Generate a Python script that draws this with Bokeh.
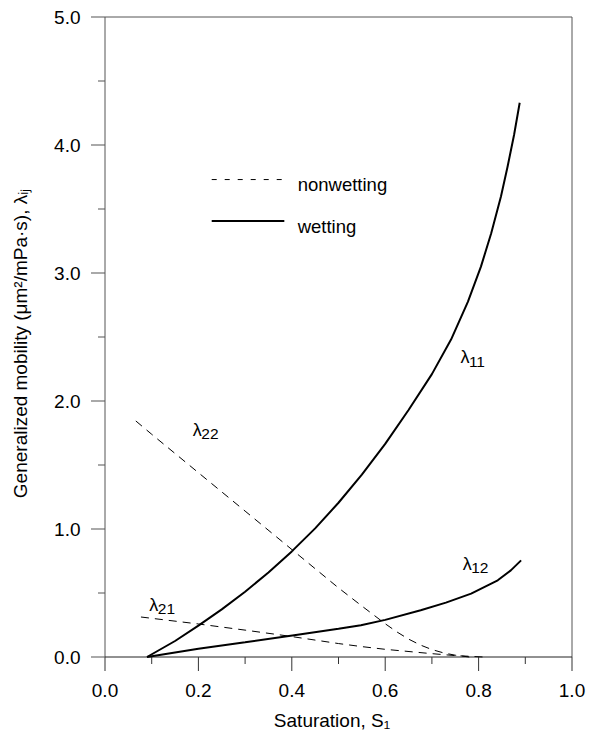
import numpy as np
from bokeh.plotting import figure
from bokeh.models import Range1d, ColumnDataSource, FixedTicker
from bokeh.embed import file_html
from bokeh.resources import INLINE
from bokeh.core.properties import value

# ---- data ----
l11_x = [0.09, 0.15, 0.2, 0.25, 0.3, 0.35, 0.4, 0.45, 0.5, 0.55, 0.6, 0.65, 0.7,
         0.741, 0.777, 0.805, 0.827, 0.848, 0.862, 0.876, 0.888]
l11_y = [0.0, 0.125, 0.245, 0.372, 0.51, 0.66, 0.825, 1.005, 1.205, 1.425, 1.665, 1.93, 2.21,
         2.48, 2.775, 3.05, 3.31, 3.6, 3.83, 4.08, 4.33]

l12_x = [0.09, 0.2, 0.3, 0.405, 0.5, 0.548, 0.6, 0.676, 0.73, 0.784, 0.841, 0.869, 0.891]
l12_y = [0.0, 0.065, 0.115, 0.17, 0.22, 0.248, 0.29, 0.365, 0.425, 0.495, 0.599, 0.677, 0.755]

l22_x = [0.066, 0.1, 0.2, 0.3, 0.402, 0.5, 0.548, 0.6, 0.625, 0.65, 0.675, 0.7, 0.725, 0.75, 0.78]
l22_y = [1.844, 1.74, 1.44, 1.14, 0.834, 0.54, 0.404, 0.26, 0.196, 0.14, 0.094, 0.058, 0.032, 0.014, 0.0]

l21_x = [0.077, 0.2, 0.3, 0.39, 0.5, 0.548, 0.6, 0.7, 0.75, 0.81]
l21_y = [0.3125, 0.258, 0.21, 0.165, 0.105, 0.082, 0.06, 0.026, 0.011, 0.0]

x_ticks = [0.0, 0.2, 0.4, 0.6, 0.8, 1.0]
x_tick_labels = ["0.0", "0.2", "0.4", "0.6", "0.8", "1.0"]
x_minor = [0.1, 0.3, 0.5, 0.7, 0.9]
y_ticks = [0.0, 1.0, 2.0, 3.0, 4.0, 5.0]
y_tick_labels = ["0.0", "1.0", "2.0", "3.0", "4.0", "5.0"]
y_minor = [0.5, 1.5, 2.5, 3.5, 4.5]

curve_labels = ["11", "12", "22", "21"]
curve_label_x = [0.761, 0.766, 0.188, 0.095]
curve_label_y = [2.34, 0.73, 1.777, 0.409]

legend_names = ["nonwetting", "wetting"]
legend_y = [3.73, 3.406]
legend_text_y = [3.693, 3.365]
legend_x0, legend_x1, legend_tx = 0.2285, 0.384, 0.4126

FONT = "Liberation Sans"
W, H = 596, 735
X0, X1, Y0, Y1 = 0.0, 1.0, 0.0, 5.0
MAJOR_PX, MINOR_PX = 14, 7
# plot box in pixels (left, right, top, bottom); the drawing frame is enlarged to hold the ticks
BOX_L, BOX_R, BOX_T, BOX_B = 104.5, 571.5, 16.5, 656.5
PAD_L, PAD_B, PAD_R, PAD_T = 14.5, 14.5, 1.5, 1.5

dx = (X1 - X0) / (BOX_R - BOX_L)
dy = (Y1 - Y0) / (BOX_B - BOX_T)

fl = int(BOX_L - PAD_L)
fr = int(BOX_R + PAD_R)
ft = int(BOX_T - PAD_T)
fb = int(BOX_B + PAD_B)

p = figure(width=W, height=H,
           x_range=Range1d(X0 - PAD_L * dx, X1 + PAD_R * dx),
           y_range=Range1d(Y0 - PAD_B * dy, Y1 + PAD_T * dy),
           output_backend="svg", toolbar_location=None,
           min_border_left=fl, min_border_right=W - fr,
           min_border_top=ft, min_border_bottom=H - fb)
p.grid.visible = False
p.outline_line_color = None
p.background_fill_color = "white"
p.border_fill_color = "white"

p.xaxis.ticker = FixedTicker(ticks=x_ticks, minor_ticks=x_minor)
p.yaxis.ticker = FixedTicker(ticks=y_ticks, minor_ticks=y_minor)
p.xaxis.major_label_overrides = {t: l for t, l in zip(x_ticks, x_tick_labels)}
p.yaxis.major_label_overrides = {t: l for t, l in zip(y_ticks, y_tick_labels)}

for ax in (p.xaxis[0], p.yaxis[0]):
    ax.major_tick_out = 0
    ax.major_tick_in = 0
    ax.minor_tick_out = 0
    ax.minor_tick_in = 0
    ax.major_tick_line_color = None
    ax.minor_tick_line_color = None
    ax.axis_line_color = None
    ax.major_label_text_font = FONT
    ax.major_label_text_font_size = "19px"
    ax.major_label_text_color = "black"
    ax.axis_label_text_font = FONT
    ax.axis_label_text_font_size = "19px"
    ax.axis_label_text_font_style = "normal"
    ax.axis_label_text_color = "black"

p.xaxis.major_label_standoff = 12
p.yaxis.major_label_standoff = 10
p.xaxis.axis_label = "Saturation, S\u2081"
p.yaxis.axis_label = "Generalized mobility (\u03bcm\u00b2/mPa\u00b7s), \u03bb\u1d62\u2c7c"
p.xaxis.axis_label_standoff = 10
p.yaxis.axis_label_standoff = 20

# plot box
p.line([X0, X0, X1, X1], [Y0, Y1, Y1, Y0], line_color="#555555", line_width=1)
p.line([X0, X1], [Y0, Y0], line_color="#222222", line_width=1)

# tick marks as thin filled bars (1 px wide) hanging outward from the box
xt = x_ticks + x_minor
xlen = [MAJOR_PX * dy] * len(x_ticks) + [MINOR_PX * dy] * len(x_minor)
yt = y_ticks + y_minor
ylen = [MAJOR_PX * dx] * len(y_ticks) + [MINOR_PX * dx] * len(y_minor)
p.quad(left=[v - 0.5 * dx for v in xt], right=[v + 0.5 * dx for v in xt],
       top=[Y0] * len(xt), bottom=[Y0 - l for l in xlen],
       fill_color="#333333", line_color=None)
p.quad(left=[X0 - l for l in ylen], right=[X0] * len(yt),
       top=[v + 0.5 * dy for v in yt], bottom=[v - 0.5 * dy for v in yt],
       fill_color="#555555", line_color=None)

# curves
p.line(l11_x, l11_y, line_color="black", line_width=2)
p.line(l12_x, l12_y, line_color="black", line_width=2)
p.line(l22_x, l22_y, line_color="black", line_width=1, line_dash="8 6")
p.line(l21_x, l21_y, line_color="black", line_width=1, line_dash="8 6")

# curve labels: lambda + subscript
src = ColumnDataSource(dict(x=curve_label_x, y=curve_label_y,
                            lam=["\u03bb"] * len(curve_labels), sub=curve_labels))
p.text(x="x", y="y", text="lam", source=src, text_font=value(FONT),
       text_font_size="18px", text_align="left", text_baseline="alphabetic", text_color="black")
p.text(x="x", y="y", text="sub", source=src, text_font=value(FONT),
       text_font_size="15.5px", text_align="left", text_baseline="alphabetic",
       x_offset=8.5, y_offset=4.5, text_color="black")

# legend (drawn manually)
p.line([legend_x0, legend_x1], [legend_y[0], legend_y[0]], line_color="black", line_width=1, line_dash="5 8")
p.line([legend_x0, legend_x1], [legend_y[1], legend_y[1]], line_color="black", line_width=2)
p.text(x=[legend_tx, legend_tx], y=legend_text_y, text=legend_names, text_font=value(FONT),
       text_font_size="18.5px", text_align="left", text_baseline="alphabetic", text_color="black")

open("out.html", "w").write(file_html(p, INLINE))
